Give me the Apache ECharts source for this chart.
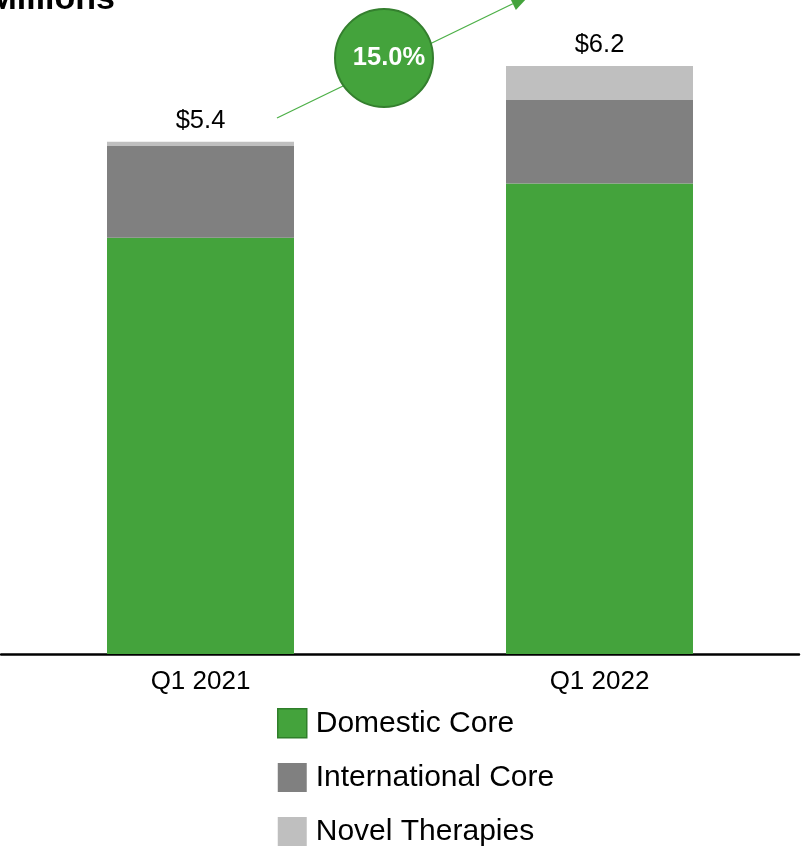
<!DOCTYPE html>
<html>
<head>
<meta charset="utf-8">
<style>
  html, body { margin: 0; padding: 0; background: #ffffff; }
  #chart { width: 803px; height: 850px; }
</style>
<script src="https://cdn.jsdelivr.net/npm/echarts@6/dist/echarts.min.js"></script>
</head>
<body>
<div id="chart"></div>
<script>
// Quarterly revenue by segment
var categories = ['Q1 2021', 'Q1 2022'];
var domesticCore = [4.39, 4.96];
var internationalCore = [0.97, 0.88];
var novelTherapies = [0.04, 0.36];
var seriesNames = ['Domestic Core', 'International Core', 'Novel Therapies'];
var growthLabel = '15.0%';
var unitTitle = 'Millions';

var FONT = "'Liberation Sans', Arial, sans-serif";
var GREEN = '#44A33C';
var DARK = '#808080';
var LIGHT = '#BFBFBF';

var totals = categories.map(function (c, i) {
  return domesticCore[i] + internationalCore[i] + novelTherapies[i];
});

var chart = echarts.init(document.getElementById('chart'), null, { renderer: 'canvas' });

// Growth arrow geometry (annotation)
var arrowStart = [277, 118];
var dir = [0.9, -0.436];
var arrowLen = 280;
var tip = [arrowStart[0] + dir[0] * arrowLen, arrowStart[1] + dir[1] * arrowLen];
var headLen = 18, headHalf = 7;
var baseC = [tip[0] - dir[0] * headLen, tip[1] - dir[1] * headLen];
var nrm = [-dir[1], dir[0]];

var option = {
  animation: false,
  backgroundColor: '#ffffff',
  grid: { left: 1, right: 4, top: 37.5, bottom: 196, containLabel: false },
  xAxis: {
    type: 'category',
    data: categories,
    axisLine: { show: true, lineStyle: { color: '#000000', width: 2.5 } },
    axisTick: { show: false },
    axisLabel: { color: '#000000', fontSize: 26, fontFamily: FONT, margin: 15 }
  },
  yAxis: {
    type: 'value',
    min: 0,
    max: 6.5,
    show: false,
    splitLine: { show: false }
  },
  legend: {
    orient: 'vertical',
    left: 277,
    top: 708,
    height: 140,
    padding: 0,
    itemWidth: 29,
    itemHeight: 29,
    itemGap: 24,
    icon: 'rect',
    textStyle: { color: '#000000', fontSize: 30, fontFamily: FONT, lineHeight: 29, padding: [0, 0, 0, 4] },
    data: [
      { name: seriesNames[0], itemStyle: { borderColor: '#2F7F2A', borderWidth: 1.5 } },
      { name: seriesNames[1] },
      { name: seriesNames[2] }
    ]
  },
  series: [
    {
      name: seriesNames[0],
      type: 'bar',
      stack: 'total',
      barWidth: 187,
      data: domesticCore,
      itemStyle: { color: GREEN }
    },
    {
      name: seriesNames[1],
      type: 'bar',
      stack: 'total',
      barWidth: 187,
      data: internationalCore,
      itemStyle: { color: DARK }
    },
    {
      name: seriesNames[2],
      type: 'bar',
      stack: 'total',
      barWidth: 187,
      data: novelTherapies,
      itemStyle: { color: LIGHT },
      label: {
        show: true,
        position: 'top',
        distance: 8,
        color: '#000000',
        fontSize: 25.5,
        fontFamily: FONT,
        formatter: function (p) { return '$' + totals[p.dataIndex].toFixed(1); }
      }
    }
  ],
  graphic: [
    {
      type: 'text',
      x: 115,
      y: 0,
      style: {
        text: unitTitle,
        fill: '#000000',
        font: 'bold 34px ' + FONT,
        textAlign: 'right',
        textVerticalAlign: 'middle'
      },
      z: 10
    },
    {
      type: 'line',
      shape: { x1: arrowStart[0], y1: arrowStart[1], x2: baseC[0], y2: baseC[1] },
      style: { stroke: '#4DB048', lineWidth: 1.3 },
      z: 10
    },
    {
      type: 'polygon',
      shape: {
        points: [
          tip,
          [baseC[0] + nrm[0] * headHalf, baseC[1] + nrm[1] * headHalf],
          [baseC[0] - nrm[0] * headHalf, baseC[1] - nrm[1] * headHalf]
        ]
      },
      style: { fill: '#44A33C' },
      z: 10
    },
    {
      type: 'circle',
      shape: { cx: 384, cy: 58, r: 49 },
      style: { fill: '#44A33C', stroke: '#347F2E', lineWidth: 2 },
      z: 11
    },
    {
      type: 'text',
      x: 389,
      y: 58,
      style: {
        text: growthLabel,
        fill: '#ffffff',
        font: 'bold 25.5px ' + FONT,
        textAlign: 'center',
        textVerticalAlign: 'middle'
      },
      z: 12
    }
  ]
};

chart.setOption(option);
</script>
</body>
</html>
